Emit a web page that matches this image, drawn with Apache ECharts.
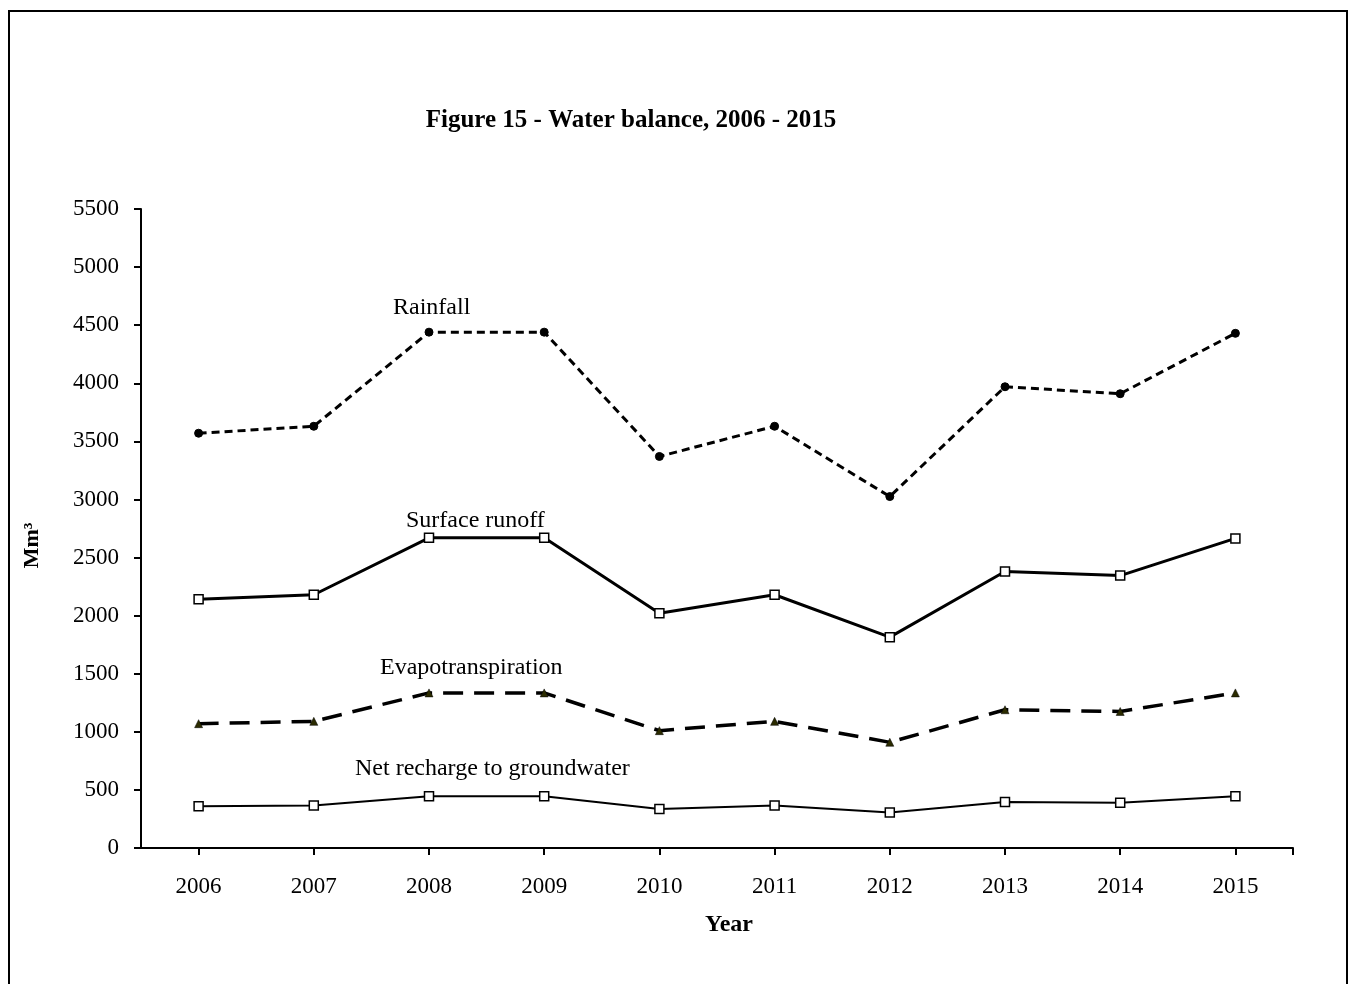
<!DOCTYPE html>
<html>
<head>
<meta charset="utf-8">
<title>Water balance, 2006 - 2015</title>
<script src="https://cdn.jsdelivr.net/npm/echarts@6/dist/echarts.min.js"></script>
<style>
  html, body { margin: 0; padding: 0; background: #fff; overflow: hidden; }
  #chart { position: absolute; left: 0; top: 0; width: 1351px; height: 984px; }
  #frame { position: absolute; left: 8px; top: 10px; width: 1340px; height: 1000px;
           border: 2px solid #000; box-sizing: border-box; pointer-events: none; }
</style>
</head>
<body>
<div id="chart"></div>
<div id="frame"></div>
<script>
// Years on the horizontal axis
const years = [2006, 2007, 2008, 2009, 2010, 2011, 2012, 2013, 2014, 2015];

// Annual volumes, Mm³
const rainfall           = [3570, 3630, 4440, 4440, 3370, 3630, 3025, 3970, 3910, 4430];
const surfaceRunoff      = [2140, 2180, 2670, 2670, 2020, 2180, 1815, 2380, 2345, 2665];
const evapotranspiration = [1070, 1090, 1335, 1335, 1010, 1090,  910, 1190, 1175, 1335];
const netRecharge        = [ 360,  365,  445,  445,  335,  365,  305,  395,  390,  445];

// Y axis ticks
const yTicks = [0, 500, 1000, 1500, 2000, 2500, 3000, 3500, 4000, 4500, 5000, 5500];

const serif = '"Liberation Serif", "Times New Roman", serif';
const pairs = vals => years.map((y, i) => [y, vals[i]]);

const chart = echarts.init(document.getElementById('chart'), null, { renderer: 'canvas' });

chart.setOption({
  animation: false,
  backgroundColor: '#fff',
  textStyle: { fontFamily: serif, color: '#000' },
  title: [
    {
      text: 'Figure 15 - Water balance, 2006 - 2015',
      left: 626, top: 103, textAlign: 'center',
      textStyle: { fontFamily: serif, fontSize: 25, fontWeight: 'bold', color: '#000' }
    },
    {
      text: 'Year',
      left: 724, top: 908, textAlign: 'center',
      textStyle: { fontFamily: serif, fontSize: 24, fontWeight: 'bold', color: '#000' }
    }
  ],
  grid: { left: 141, right: 58, top: 209, bottom: 136, containLabel: false },
  xAxis: {
    type: 'value',
    min: years[0] - 0.5,
    max: years[years.length - 1] + 0.5,
    splitLine: { show: false },
    axisLine: { show: true, lineStyle: { color: '#000', width: 2 } },
    axisTick: {
      show: true, inside: false, length: 7,
      lineStyle: { color: '#000', width: 2 },
      customValues: years.concat([years[years.length - 1] + 0.5])
    },
    axisLabel: {
      customValues: years,
      formatter: v => String(Math.round(v)),
      fontFamily: serif, fontSize: 23, color: '#000', margin: 27
    }
  },
  yAxis: {
    type: 'value',
    min: yTicks[0],
    max: yTicks[yTicks.length - 1],
    interval: 500,
    name: 'Mm³',
    nameLocation: 'middle',
    nameGap: 98,
    nameRotate: 90,
    nameTextStyle: { fontFamily: serif, fontSize: 22, fontWeight: 'bold', color: '#000', padding: [0, 0, 0, -34] },
    splitLine: { show: false },
    axisLine: { show: true, lineStyle: { color: '#000', width: 2 } },
    axisTick: { show: true, inside: false, length: 7, lineStyle: { color: '#000', width: 2 } },
    axisLabel: {
      formatter: v => String(v),
      fontFamily: serif, fontSize: 23, color: '#000', margin: 22
    }
  },
  series: [
    {
      name: 'Rainfall',
      type: 'line',
      data: pairs(rainfall),
      symbol: 'circle', symbolSize: 8,
      itemStyle: { color: '#000', borderColor: '#000', borderWidth: 1 },
      lineStyle: { color: '#000', width: 3, type: [8, 5] },
      z: 4
    },
    {
      name: 'Surface runoff',
      type: 'line',
      data: pairs(surfaceRunoff),
      symbol: 'rect', symbolSize: 9,
      itemStyle: { color: '#fff', borderColor: '#000', borderWidth: 1.5 },
      lineStyle: { color: '#000', width: 3, type: 'solid' },
      z: 4
    },
    {
      name: 'Evapotranspiration',
      type: 'line',
      data: pairs(evapotranspiration),
      symbol: 'triangle', symbolSize: 8,
      itemStyle: { color: '#2b2b00', borderColor: '#000', borderWidth: 0.5 },
      lineStyle: { color: '#000', width: 3.5, type: [20, 11] },
      z: 4
    },
    {
      name: 'Net recharge to groundwater',
      type: 'line',
      data: pairs(netRecharge),
      symbol: 'rect', symbolSize: 9,
      itemStyle: { color: '#fff', borderColor: '#000', borderWidth: 1.5 },
      lineStyle: { color: '#000', width: 2, type: 'solid' },
      z: 4
    }
  ],
  graphic: [
    { type: 'text', left: 393, top: 296,
      style: { text: 'Rainfall', font: '24px ' + serif, fill: '#000' } },
    { type: 'text', left: 406, top: 509,
      style: { text: 'Surface runoff', font: '24px ' + serif, fill: '#000' } },
    { type: 'text', left: 380, top: 656,
      style: { text: 'Evapotranspiration', font: '24px ' + serif, fill: '#000' } },
    { type: 'text', left: 355, top: 757,
      style: { text: 'Net recharge to groundwater', font: '24px ' + serif, fill: '#000' } }
  ]
});
</script>
</body>
</html>
